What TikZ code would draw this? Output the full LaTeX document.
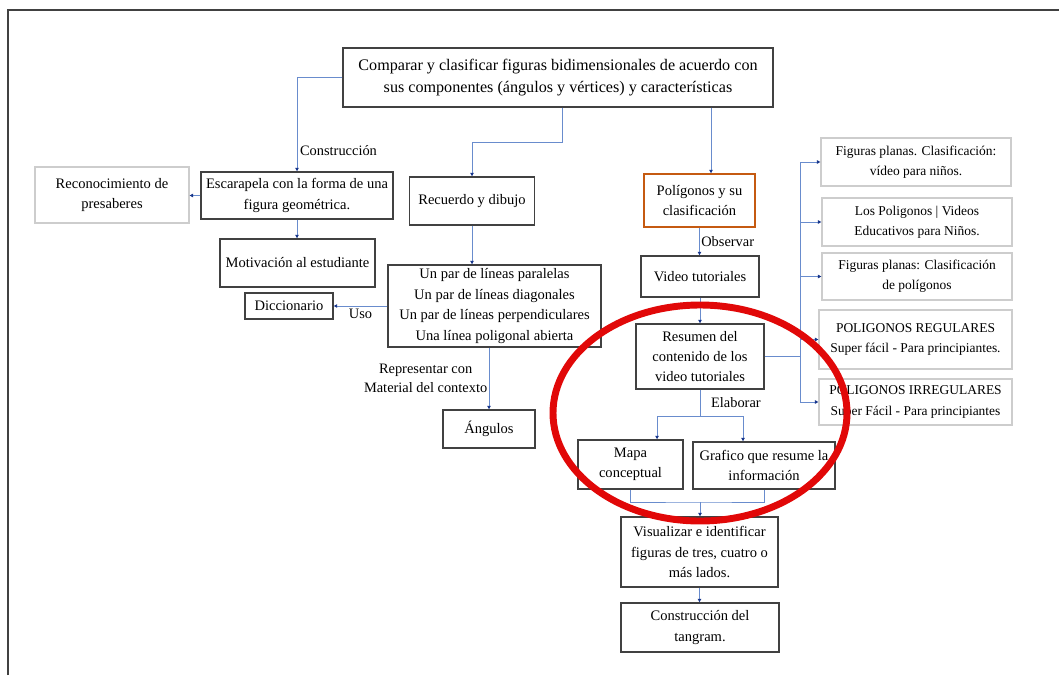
\documentclass[tikz,border=0pt]{standalone}
\usepackage{fontspec}
\setmainfont{Liberation Serif}
\usetikzlibrary{arrows.meta}
\definecolor{linea}{RGB}{105,140,205}
\definecolor{punta}{RGB}{25,55,140}
\definecolor{borde}{RGB}{65,65,65}
\definecolor{gris}{RGB}{205,205,205}
\definecolor{naranja}{RGB}{197,90,17}
\definecolor{rojo}{RGB}{225,8,8}
\begin{document}
\begin{tikzpicture}[x=0.75pt,y=-0.75pt,
  box/.style={draw=borde, line width=1.1pt, align=center, inner sep=0pt, font=\fontsize{10.9}{15.3}\selectfont},
  caja/.style={box, draw=gris, line width=0.9pt, font=\fontsize{10.1}{15.3}\selectfont},
  flecha/.style={draw=linea, line width=0.7pt, -{Triangle[length=2.6pt,width=2.6pt,color=punta]}},
  tramo/.style={draw=linea, line width=0.7pt},
  etiqueta/.style={font=\fontsize{10.8}{14.5}\selectfont, align=center, inner sep=2pt}]
\useasboundingbox (0,0) rectangle (1059,675);
\draw[borde, line width=1.4pt] (8,675) -- (8,10) -- (1059,10);
% nodos
\node(meta) at (558,77.5) [box, minimum width=322.5pt, minimum height=44.25pt, font=\fontsize{12.1}{16.5}\selectfont]{Comparar y clasificar figuras bidimensionales de acuerdo con\\sus componentes (ángulos y vértices) y características};
\node(escarapela) at (297,195.5) [box, minimum width=144pt, minimum height=35.25pt]{Escarapela con la forma de una\\figura geométrica.};
\node(presaberes) at (112,195) [caja, minimum width=115.5pt, minimum height=42pt, font=\fontsize{10.9}{15.5}\selectfont]{Reconocimiento de\\presaberes};
\node(motivacion) at (297.5,263) [box, minimum width=116.25pt, minimum height=36pt]{Motivación al estudiante};
\node(diccionario) at (289,306) [box, minimum width=66pt, minimum height=19.5pt]{Diccionario};
\node(recuerdo) at (472,201) [box, minimum width=93.75pt, minimum height=36pt]{Recuerdo y dibujo};
\node(lineas) at (494.5,306) [box, minimum width=159.75pt, minimum height=61.5pt]{Un par de líneas paralelas\\Un par de líneas diagonales\\Un par de líneas perpendiculares\\Una línea poligonal abierta};
\node(angulos) at (489,429) [box, minimum width=69pt, minimum height=28.5pt]{Ángulos};
\node(poligonos) at (699.5,200.5) [box, draw=naranja, minimum width=83.25pt, minimum height=39.75pt]{Polígonos y su\\clasificación};
\node(video) at (700,276.5) [box, minimum width=88.5pt, minimum height=30.75pt]{Video tutoriales};
\node(resumen) at (700,356.5) [box, minimum width=96pt, minimum height=48.75pt]{Resumen del\\contenido de los\\video tutoriales};
\node(mapa) at (630.5,464.5) [box, minimum width=78.75pt, minimum height=36.75pt]{Mapa\\conceptual};
\node(grafico) at (764,465.5) [box, minimum width=106.5pt, minimum height=35.25pt]{Grafico que resume la\\información};
\node(visualizar) at (699.5,552) [box, minimum width=117.75pt, minimum height=52.5pt]{Visualizar e identificar\\figuras de tres, cuatro o\\más lados.};
\node(tangram) at (700,627.5) [box, minimum width=118.5pt, minimum height=36.75pt]{Construcción del\\tangram.};
\node(v1) at (916,162) [caja, minimum width=142.5pt, minimum height=36pt]{Figuras planas. Clasificación:\\vídeo para niños.};
\node(v2) at (917,222) [caja, minimum width=142.5pt, minimum height=36pt]{Los Poligonos | Videos\\Educativos para Niños.};
\node(v3) at (917,276.5) [caja, minimum width=142.5pt, minimum height=35.25pt]{Figuras planas: Clasificación\\de polígonos};
\node(v4) at (915.5,339.5) [caja, minimum width=144.75pt, minimum height=44.25pt]{POLIGONOS REGULARES\\Super fácil - Para principiantes.};
\node(v5) at (915.5,402) [caja, minimum width=144.75pt, minimum height=34.5pt]{POLIGONOS IRREGULARES\\Super Fácil - Para principiantes};
\coordinate(bus) at (800,356.5);
\coordinate(split) at (700,416);
\coordinate(junta) at (700,502);
% conectores
\draw[flecha] (meta.west) -| node[etiqueta, pos=0.89, right]{Construcción} (escarapela.north);
\draw[flecha] ([xshift=3pt]meta.south) -- ++(0,34.5) -| (recuerdo.north);
\draw[flecha] ([xshift=114.75pt]meta.south) -- ([xshift=114.75pt]meta.south |- poligonos.north);
\draw[flecha] (escarapela.west) -- (escarapela.west -| presaberes.east);
\draw[flecha] (escarapela.south) -- (escarapela.south |- motivacion.north);
\draw[flecha] (recuerdo.south) -- (recuerdo.south |- lineas.north);
\draw[flecha] (lineas.west) -- node[etiqueta, below]{Uso} (lineas.west -| diccionario.east);
\draw[flecha] (angulos.north |- lineas.south) -- node[etiqueta, left, inner sep=1pt]{Representar con\\Material del contexto} (angulos.north);
\draw[flecha] (poligonos.south) -- node[etiqueta, right, inner sep=1pt]{Observar} (poligonos.south |- video.north);
\draw[flecha] (video.south) -- (video.south |- resumen.north);
\draw[tramo] (resumen.east) -- (bus);
\foreach \v in {v1,v2,v3,v4,v5}
  \draw[flecha] (bus) |- (\v.west);
\draw[tramo] (resumen.south) -- node[etiqueta, right, xshift=6pt]{Elaborar} (split);
\draw[flecha] (split) -| ([xshift=19.9pt]mapa.north);
\draw[flecha] (split) -| ([xshift=-15.75pt]grafico.north);
\draw[tramo] (mapa.south) |- (junta) -| (grafico.south);
\draw[flecha] (junta) -- (junta |- visualizar.north);
\draw[flecha] (visualizar.south) -- (visualizar.south |- tangram.north);
% marca roja
\draw[rojo, line width=5.2pt] (700,413) ellipse [x radius=110.25pt, y radius=81pt];
\end{tikzpicture}
\end{document}
